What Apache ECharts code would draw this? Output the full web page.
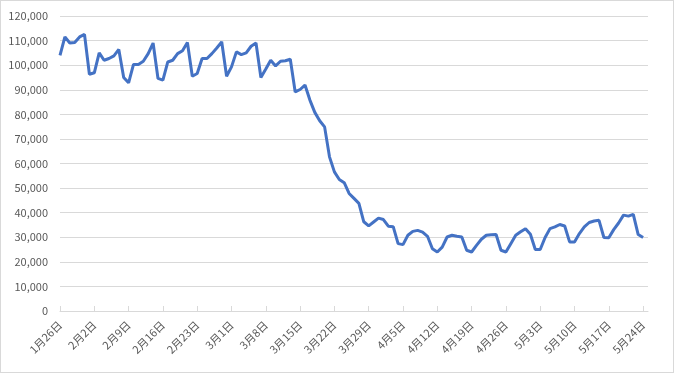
<!DOCTYPE html>
<html>
<head>
<meta charset="utf-8">
<script src="https://cdn.jsdelivr.net/npm/echarts@6/dist/echarts.min.js"></script>
<style>
html,body{margin:0;padding:0;background:#fff;}
#c{width:672px;height:371px;border:1px solid #d9d9d9;}
</style>
</head>
<body>
<div id="c"></div>
<script>
// Month lengths (2020) and range for the daily category axis
var startMonth = 1, startDay = 26, endMonth = 5, endDay = 24;
var monthDays = [31, 29, 31, 30, 31];

var values = [
  104000, 111500, 109000, 109200, 111500, 112500, 96300,
  96900, 105000, 102000, 102700, 103800, 106400, 95000,
  92800, 100300, 100300, 101600, 104700, 109000, 94600,
  93900, 101300, 102000, 104700, 105900, 109200, 95500,
  96600, 102700, 102700, 104700, 107000, 109500, 95500,
  99300, 105400, 104300, 105000, 107700, 109000, 95000,
  98400, 102000, 99700, 101600, 101800, 102400, 89100,
  90100, 91900, 85800, 80800, 77400, 74900, 62700,
  56600, 53500, 52200, 47800, 45800, 43800, 36300,
  34600, 36200, 37800, 37200, 34500, 34300, 27400,
  27000, 30800, 32400, 32800, 32100, 30400, 25300,
  24000, 26000, 30100, 30800, 30400, 30100, 24700,
  24000, 26700, 29200, 30800, 31000, 31100, 24700,
  24000, 27400, 30800, 32200, 33500, 31200, 25000,
  25000, 29900, 33500, 34200, 35200, 34600, 28100,
  28100, 31500, 34200, 36000, 36600, 36900, 29900,
  29800, 33100, 35800, 39000, 38600, 39300, 31100,
  29900
];

var categories = [];
(function(){
  var m = startMonth, d = startDay;
  while (true) {
    categories.push(m + '月' + d + '日');
    if (m === endMonth && d === endDay) break;
    d++;
    if (d > monthDays[m - 1]) { d = 1; m++; }
  }
  categories.push(''); // trailing padding slot of the axis
})();

var yMin = 0, yMax = 120000, yStep = 10000;

var chart = echarts.init(document.getElementById('c'));
var txt = '#595959';
var font = '"Noto Sans CJK JP", "Noto Sans", sans-serif';
chart.setOption({
  animation: false,
  grid: { left: 59, right: 25, top: 15, bottom: 61, containLabel: false },
  xAxis: {
    type: 'category',
    data: categories,
    boundaryGap: false,
    axisLine: { lineStyle: { color: '#d9d9d9', width: 1 } },
    axisTick: {
      show: true, inside: true, length: 5, lineStyle: { color: '#d9d9d9' },
      interval: function(i){ return i % 7 === 0 && i < categories.length - 1; }
    },
    axisLabel: {
      rotate: 45, color: txt, fontSize: 11, fontFamily: font, margin: 12,
      interval: function(i){ return i % 7 === 0 && i < categories.length - 1; }
    },
    splitLine: { show: false }
  },
  yAxis: {
    type: 'value',
    min: yMin, max: yMax, interval: yStep,
    axisLine: { show: false },
    axisTick: { show: false },
    axisLabel: {
      color: txt, fontSize: 11, fontFamily: font, margin: 12,
      formatter: function(v){ return String(v).replace(/\B(?=(\d{3})+(?!\d))/g, ','); }
    },
    splitLine: { lineStyle: { color: '#d9d9d9', width: 1 } }
  },
  series: [{
    type: 'line',
    data: values,
    symbol: 'none',
    lineStyle: { color: '#4472C4', width: 3 },
    itemStyle: { color: '#4472C4' }
  }]
});
</script>
</body>
</html>
